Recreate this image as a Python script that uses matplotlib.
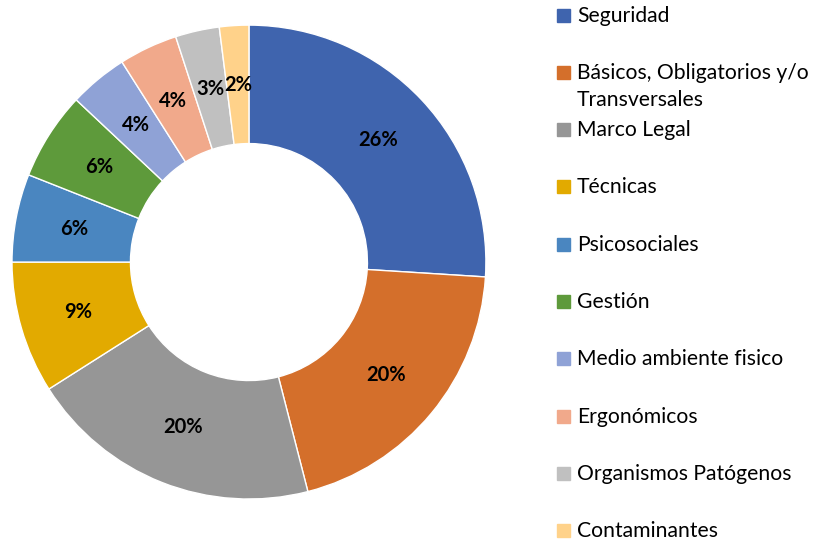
import matplotlib.pyplot as plt
from matplotlib.patches import Rectangle

categorias = ["Seguridad", "Básicos, Obligatorios y/o\nTransversales", "Marco Legal",
              "Técnicas", "Psicosociales", "Gestión", "Medio ambiente fisico",
              "Ergonómicos", "Organismos Patógenos", "Contaminantes"]
valores = [26, 20, 20, 9, 6, 6, 4, 4, 3, 2]
colores = ["#3F64AE", "#D46F2B", "#969696", "#E2AA00", "#4A86C0",
           "#5E9A3B", "#8FA2D6", "#F1A98B", "#C0C0C0", "#FFD28A"]

plt.rcParams['font.family'] = ['Lato', 'DejaVu Sans']

fig = plt.figure(figsize=(8.2, 5.41), dpi=100)
ax = fig.add_axes([0.0146, 0.0776, 0.578, 0.876])

wedges, _, autotexts = ax.pie(
    valores, colors=colores, startangle=90, counterclock=False, radius=1,
    autopct=lambda p: "%d%%" % round(p), pctdistance=0.75,
    wedgeprops=dict(width=0.5, edgecolor="white", linewidth=1),
    textprops=dict(fontsize=14.5, fontweight="bold", color="black"))
ax.set_xlim(-1, 1)
ax.set_ylim(-1, 1)
ax.set_aspect("equal")

# leyenda manual
y0 = 15
paso = 57.3
for i, (cat, col) in enumerate(zip(categorias, colores)):
    y = 1 - (y0 + i * paso) / 541
    fig.patches.append(Rectangle((557 / 820, y - 6.5 / 541), 13 / 820, 13 / 541,
                                 transform=fig.transFigure, color=col))
    fig.text(577 / 820, y + 9.5 / 541, cat, fontsize=15.2, va="top", ha="left",
             linespacing=1.45)

fig.savefig("out.png", dpi=100)
